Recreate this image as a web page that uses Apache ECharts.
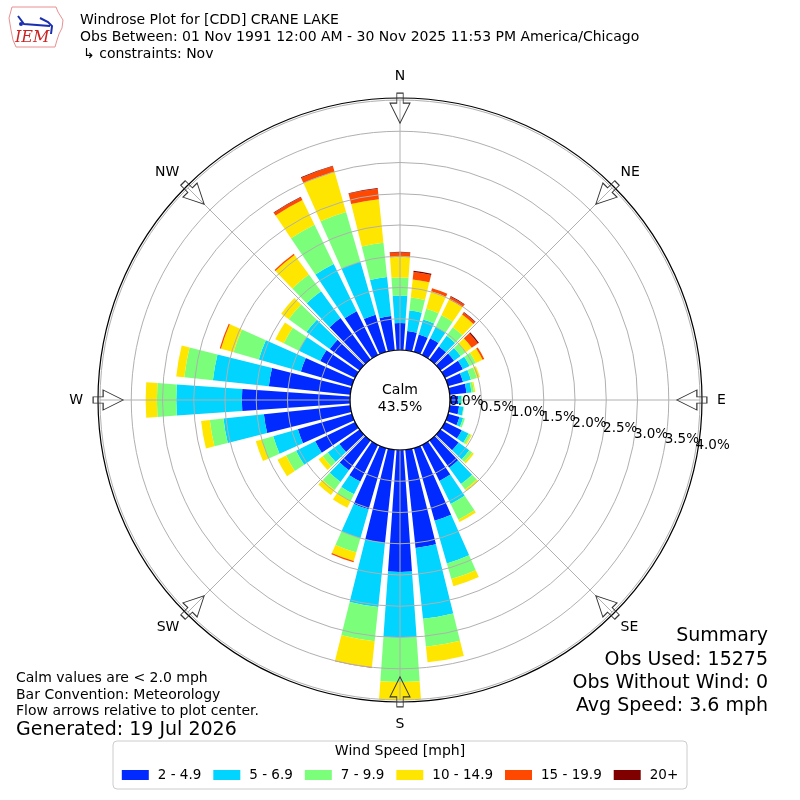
<!DOCTYPE html>
<html><head><meta charset="utf-8">
<script src="https://cdn.jsdelivr.net/npm/echarts@6/dist/echarts.min.js"></script>
<style>html,body{margin:0;padding:0;background:#fff}#c{width:800px;height:800px}</style>
</head><body><div id="c"></div>
<script>
// ---- data ----
const directions = [0,10,20,30,40,50,60,70,80,90,100,110,120,130,140,150,160,170,180,190,200,210,220,230,240,250,260,270,280,290,300,310,320,330,340,350];
const speedBins = ['2 - 4.9','5 - 6.9','7 - 9.9','10 - 14.9','15 - 19.9','20+'];
const binColors = ['#002aff','#00d4ff','#7bff7b','#ffe600','#ff4800','#800000'];
// percent of observations per direction, per speed bin
const pct2to5   = [0.43,0.31,0.29,0.30,0.26,0.27,0.32,0.25,0.27,0.13,0.15,0.19,0.30,0.36,0.54,0.64,1.21,1.58,1.95,1.50,1.02,0.65,0.59,0.40,0.71,0.90,1.39,1.73,1.31,0.85,0.62,0.59,0.82,0.78,0.62,0.55];
const pct5to7   = [0.44,0.33,0.25,0.20,0.21,0.13,0.12,0.13,0.08,0.05,0.07,0.06,0.12,0.21,0.32,0.41,0.71,1.14,1.05,1.03,0.48,0.23,0.23,0.23,0.34,0.41,0.65,1.05,0.90,0.70,0.38,0.46,0.53,0.84,0.88,0.63];
const pct7to10  = [0.29,0.21,0.18,0.21,0.17,0.10,0.11,0.10,0.04,0.02,0.01,0.03,0.04,0.06,0.11,0.28,0.26,0.45,0.71,0.55,0.24,0.12,0.16,0.10,0.18,0.19,0.22,0.31,0.46,0.42,0.27,0.35,0.33,0.70,0.83,0.55];
const pct10to15 = [0.33,0.29,0.29,0.28,0.25,0.12,0.12,0.05,0.02,0.00,0.00,0.00,0.02,0.03,0.03,0.04,0.12,0.25,0.32,0.42,0.14,0.12,0.10,0.08,0.15,0.10,0.14,0.18,0.13,0.21,0.15,0.15,0.39,0.44,0.67,0.70];
const pct15to20 = [0.07,0.12,0.05,0.05,0.04,0.12,0.03,0.00,0.00,0.00,0.00,0.00,0.00,0.00,0.00,0.00,0.00,0.00,0.00,0.01,0.02,0.00,0.00,0.00,0.00,0.00,0.00,0.00,0.00,0.02,0.00,0.00,0.02,0.05,0.09,0.17];
const pct20plus = [0.01,0.02,0.00,0.01,0.01,0.02,0.00,0.00,0.00,0.00,0.00,0.00,0.00,0.00,0.00,0.00,0.00,0.00,0.00,0.00,0.00,0.00,0.00,0.00,0.00,0.00,0.00,0.00,0.00,0.00,0.00,0.00,0.00,0.01,0.01,0.01];
const binValues = [pct2to5, pct5to7, pct7to10, pct10to15, pct15to20, pct20plus];
const compassAngles = [0,45,90,135,180,225,270,315];
const compassLabels = ['N','NE','E','SE','S','SW','W','NW'];
const radialTickLabels = ['0.0%','0.5%','1.0%','1.5%','2.0%','2.5%','3.0%','3.5%','4.0%'];
const calmPct = '43.5%';
const titleLines = ['Windrose Plot for [CDD] CRANE LAKE','Obs Between: 01 Nov 1991 12:00 AM - 30 Nov 2025 11:53 PM America/Chicago','\u21b3 constraints: Nov'];
const noteLines = ['Calm values are < 2.0 mph','Bar Convention: Meteorology','Flow arrows relative to plot center.'];
const generatedText = 'Generated: 19 Jul 2026';
const summaryLines = ['Summary','Obs Used: 15275','Obs Without Wind: 0','Avg Speed: 3.6 mph'];

// ---- chart ----
const FONT = "'DejaVu Sans', sans-serif";
const C = [400, 400];
const chart = echarts.init(document.getElementById('c'));
const hidden = {axisLine:{show:false},axisTick:{show:false},axisLabel:{show:false},splitLine:{show:false},splitArea:{show:false}};

const barSeries = speedBins.map((name, i) => ({
  type:'bar', name, coordinateSystem:'polar', polarIndex:0, stack:'wind',
  data: binValues[i], barCategoryGap:'20%', itemStyle:{color:binColors[i]}, silent:true, z:2
}));

const arrowPath = 'path://M-3.2,0 L3.2,0 L3.2,10 L10,10 L0,30 L-10,10 L-3.2,10 Z';

const graphics = [];
titleLines.forEach((t, i) => graphics.push({type:'text', left: i===2?83:80, top: [13,30,47][i], z:10,
  style:{text:t, font:'14px '+FONT, fill:'#000'}}));
noteLines.forEach((t, i) => graphics.push({type:'text', left:16, top:[671,688,704][i], z:10,
  style:{text:t, font:'14px '+FONT, fill:'#000'}}));
graphics.push({type:'text', left:16, top:721, z:10, style:{text:generatedText, font:'19px '+FONT, fill:'#000'}});
summaryLines.forEach((t, i) => graphics.push({type:'text', right:32, top:[627,651,674,697][i], z:10,
  style:{text:t, font:'19px '+FONT, fill:'#000'}}));
graphics.push({type:'text', left:'center', top:382, z:20, style:{text:'Calm\n'+calmPct, font:'14px '+FONT, fill:'#000', textAlign:'center', align:'center', lineHeight:17}});
// legend frame
graphics.push({type:'rect', shape:{x:113, y:741, width:574, height:48, r:4}, z:0, style:{fill:'#fff', stroke:'#cccccc', lineWidth:1}});
graphics.push({type:'text', left:'center', top:744, z:10, style:{text:'Wind Speed [mph]', font:'14px '+FONT, fill:'#000'}});
// IEM logo (approximate)
graphics.push({type:'polyline', z:10, shape:{points:[[12,7],[56,7],[58,12],[63,20],[62,28],[59,34],[57,40],[55,47],[16,47],[13,40],[11,30],[9,18],[12,7]]}, style:{stroke:'#e89090', lineWidth:1, fill:null}});
graphics.push({type:'polyline', z:11, shape:{points:[[18,16],[24,24],[50,26]]}, style:{stroke:'#1a2fb0', lineWidth:2, fill:null}});
graphics.push({type:'polyline', z:11, shape:{points:[[40,18],[48,22],[52,26],[51,34]]}, style:{stroke:'#1a2fb0', lineWidth:2, fill:null}});
graphics.push({type:'circle', z:11, shape:{cx:21, cy:24, r:2}, style:{fill:'#1a2fb0'}});
graphics.push({type:'text', left:15, top:30, z:11, style:{text:'IEM', font:'italic 16px "DejaVu Serif", serif', fill:'#cc2222'}});

function compassAxis(polarIndex, margin, wantDiagonal, withGrid) {
  return {polarIndex, type:'value', min:0, max:360, interval:45, startAngle:90, clockwise:true, z:10,
    axisLine:{show:false}, axisTick:{show:false}, splitArea:{show:false},
    splitLine:{show:withGrid, lineStyle:{color:'#b0b0b0', width:1}},
    axisLabel:{show:true, margin, fontSize:14, color:'#000', fontFamily:FONT,
      formatter:(v)=> {
        if (v >= 360) return '';
        const k = Math.round(v/45);
        return ((k % 2 === 1) === wantDiagonal) ? compassLabels[k] : '';
      }}};
}
function radialLabelAxis(polarIndex, parity) {
  return {polarIndex, type:'value', min:0, max:4, interval:0.5, z:15,
    axisLine:{show:false}, axisTick:{show:false}, splitLine:{show:false},
    axisLabel:{show:true, showMinLabel:true, showMaxLabel:true, margin:0, fontSize:13.5, color:'#000', fontFamily:FONT, align:'left', verticalAlign:'bottom',
      formatter:(v)=> { const k = Math.round(v/0.5); return k % 2 === parity ? radialTickLabels[k] : ''; }}};
}

const option = {
  animation:false,
  backgroundColor:'#fff',
  textStyle:{fontFamily:FONT},
  polar:[
    {center:C, radius:[50,300]},   // 0 bars
    {center:C, radius:[50,300]},   // 1 grid + N/E/S/W labels
    {center:C, radius:[50,300]},   // 2 radial labels (even)
    {center:C, radius:[0,50]},     // 3 calm circle
    {center:C, radius:[0,302]},    // 4 outer frame
    {center:C, radius:[50,300]},   // 5 diagonal labels
    {center:C, radius:[50,300]}    // 6 radial labels (odd)
  ],
  angleAxis:[
    Object.assign({polarIndex:0, type:'category', data:directions, startAngle:95, clockwise:true, boundaryGap:true}, hidden),
    compassAxis(1, 17, false, true),
    Object.assign({polarIndex:2, type:'value', min:0, max:360, startAngle:-10, clockwise:true}, hidden),
    {polarIndex:3, type:'value', min:0, max:360, z:12, axisLine:{show:true, lineStyle:{color:'#000', width:1.2}},
      axisTick:{show:false}, axisLabel:{show:false}, splitLine:{show:false}},
    {polarIndex:4, type:'value', min:0, max:360, z:12, axisLine:{show:true, lineStyle:{color:'#000', width:1.2}},
      axisTick:{show:false}, axisLabel:{show:false}, splitLine:{show:false}},
    compassAxis(5, 12, true, false),
    Object.assign({polarIndex:6, type:'value', min:0, max:360, startAngle:-10, clockwise:true}, hidden)
  ],
  radiusAxis:[
    Object.assign({polarIndex:0, type:'value', min:0, max:4}, hidden),
    {polarIndex:1, type:'value', min:0, max:4, interval:0.5, z:10,
      axisLine:{show:false}, axisTick:{show:false}, axisLabel:{show:false},
      splitLine:{show:true, lineStyle:{color:'#b0b0b0', width:1}}},
    radialLabelAxis(2, 0),
    Object.assign({polarIndex:3, type:'value', min:0, max:1}, hidden),
    Object.assign({polarIndex:4, type:'value', min:0, max:1}, hidden),
    Object.assign({polarIndex:5, type:'value', min:0, max:4}, hidden),
    radialLabelAxis(6, 1)
  ],
  legend:{
    data:speedBins, left:'center', top:768, orient:'horizontal', icon:'rect',
    itemWidth:27, itemHeight:10, itemGap:12, padding:0, selectedMode:false,
    textStyle:{fontSize:13.5, color:'#000', fontFamily:FONT, padding:[0,0,0,4]}
  },
  series: barSeries.concat([{
    type:'scatter', coordinateSystem:'polar', polarIndex:1, silent:true, z:20,
    symbol:arrowPath, symbolSize:[20,30],
    symbolRotate:(val)=> -val[1],
    itemStyle:{color:'rgba(255,255,255,0)', borderColor:'#333', borderWidth:1, opacity:1},
    data: compassAngles.map(a => [3.87, a])
  }]),
  graphic:{elements:graphics}
};
chart.setOption(option);
</script></body></html>
